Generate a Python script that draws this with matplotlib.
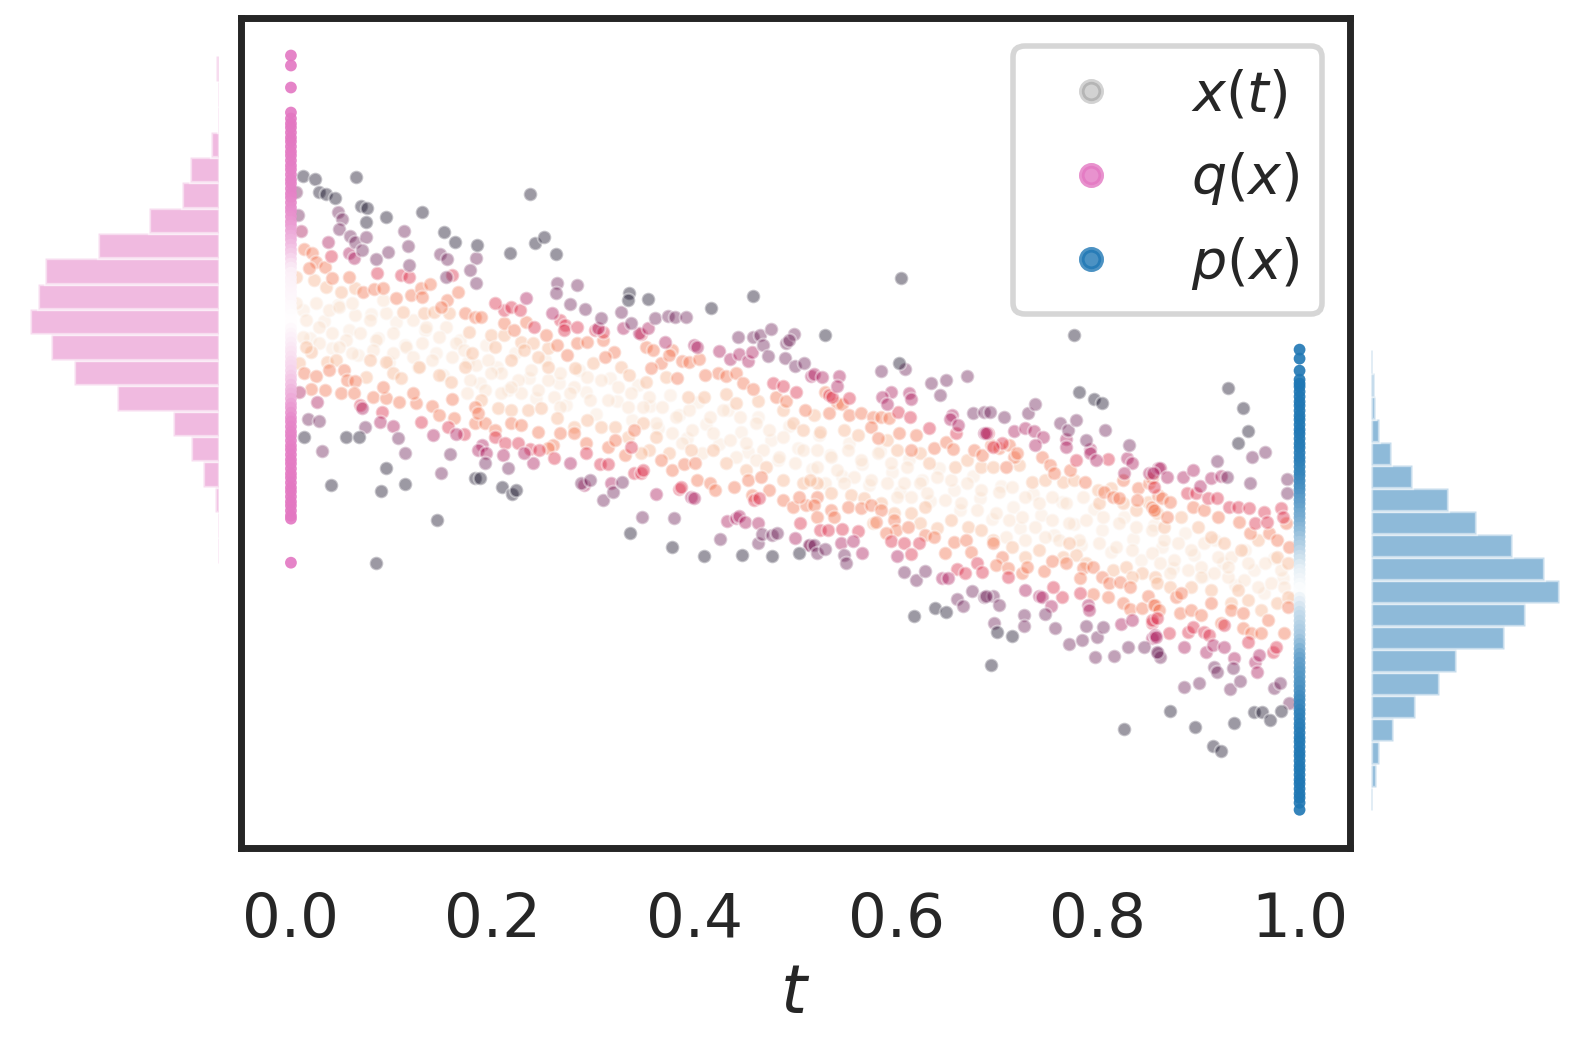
import numpy as np
import matplotlib
matplotlib.use("Agg")
import matplotlib.pyplot as plt
import seaborn as sns
from matplotlib.colors import LinearSegmentedColormap, PowerNorm
from matplotlib.lines import Line2D

sns.set_theme(style="white", context="poster")

# ---- data -----------------------------------------------------------------
# samples at the two ends (t=0: q(x), t=1: p(x))
q_strip = [4.44, 4.34, 4.12, 3.87,
           3.81, 3.76, 3.72, 3.67, 3.62, 3.58, 3.53, 3.48, 3.44, 3.39, 3.34, 3.30,
           3.25, 3.20, 3.16, 3.11, 3.06, 3.02, 2.97, 2.92, 2.88, 2.83, 2.78, 2.74,
           2.69, 2.64, 2.60, 2.55, 2.50, 2.46, 2.41, 2.36, 2.32, 2.27, 2.22, 2.18,
           2.13, 2.08, 2.04, 1.99, 1.94, 1.90, 1.85, 1.80, 1.76, 1.71, 1.66, 1.62,
           1.57, 1.52, 1.48, 1.43, 1.38, 1.34, 1.29, 1.24, 1.20, 1.15, 1.10, 1.06,
           1.01, 0.96, 0.92, 0.87, 0.82, 0.78, 0.73, 0.68, 0.64, 0.59, 0.54, 0.50,
           0.45, 0.40, 0.36, 0.31, 0.26, 0.22, 0.17, 0.12, 0.08, 0.03, -0.02, -0.06,
           -0.11, -0.16, -0.19, -0.63]
p_strip = [1.50, 1.41, 1.29, 1.20, 1.16, 1.13,
           1.08, 1.03, 0.98, 0.94, 0.89, 0.84, 0.80, 0.75, 0.70, 0.66, 0.61, 0.56,
           0.52, 0.47, 0.42, 0.38, 0.33, 0.28, 0.24, 0.19, 0.14, 0.10, 0.05, 0.00,
           -0.04, -0.09, -0.14, -0.18, -0.23, -0.28, -0.32, -0.37, -0.42, -0.46,
           -0.51, -0.56, -0.60, -0.65, -0.70, -0.74, -0.79, -0.84, -0.88, -0.93,
           -0.98, -1.02, -1.07, -1.12, -1.16, -1.21, -1.26, -1.30, -1.35, -1.40,
           -1.44, -1.49, -1.54, -1.58, -1.63, -1.68, -1.72, -1.77, -1.82, -1.86,
           -1.91, -1.96, -2.00, -2.05, -2.10, -2.14, -2.19, -2.24, -2.28, -2.33,
           -2.38, -2.42, -2.47, -2.52, -2.56, -2.61, -2.66, -2.70, -2.75, -2.80,
           -2.84, -2.89, -2.94, -2.98, -3.03, -3.10]

# histogram counts, 20 bins, from lowest x to highest x
q_counts = [1, 1, 3, 12, 21, 35, 77, 110, 127, 143, 137, 132, 92, 53, 28, 22, 6, 1, 1, 2]
p_counts = [1, 4, 6, 17, 34, 53, 66, 104, 120, 147, 135, 110, 82, 60, 32, 16, 6, 3, 2, 1]

# x(t) cloud, grouped by how dark the point is (density level)
pale = [(.025,1.97),(.038,1.90),(.048,1.93),(.064,1.85),(.078,1.80),(.094,1.87),(.121,1.80),(.134,1.73),
        (.154,1.73),(.015,1.80),(.028,1.73),(.041,1.67),(.055,1.60),(.068,1.67),(.084,1.60),(.101,1.67),
        (.114,1.53),(.130,1.57),(.147,1.63),(.164,1.57),(.012,1.63),(.028,1.57),(.048,1.53),(.061,1.47),
        (.081,1.50),(.101,1.47),(.121,1.43),(.140,1.40),(.160,1.43),(.005,1.97),(.091,2.00),(.061,1.97),
        (.172,1.50),(.183,1.35),(.195,1.40),(.208,1.27),(.225,1.20),(.238,1.30),(.255,1.20),(.267,1.27),
        (.281,1.13),(.294,1.23),(.307,1.20),(.324,1.13),(.337,1.07),(.178,1.20),(.192,1.10),(.208,1.07),
        (.228,1.07),(.245,1.10),(.261,1.03),(.277,1.07),(.297,1.00),(.314,1.00),(.334,0.93),(.198,1.27),
        (.218,1.13),(.267,0.93),(.175,1.07),
        (.355,1.03),(.368,0.93),(.382,0.83),(.395,0.90),(.415,0.83),(.428,0.90),(.445,0.83),(.461,0.77),
        (.474,0.70),(.488,0.63),(.508,0.50),(.349,0.93),(.362,0.77),(.378,0.67),(.398,0.70),(.418,0.67),
        (.435,0.60),(.451,0.57),(.468,0.50),(.484,0.43),(.500,0.37),(.388,0.57),(.408,0.47),(.441,0.43),
        (.461,0.40),
        (.522,0.50),(.535,0.43),(.552,0.50),(.565,0.40),(.582,0.47),(.595,0.37),(.611,0.33),(.522,0.33),
        (.541,0.30),(.558,0.23),(.575,0.20),(.591,0.17),(.608,0.17),(.624,0.17),(.641,0.23),(.654,0.20),
        (.670,0.17),(.684,0.10),(.615,0.03),(.631,0.07),(.648,0.00),(.664,-0.03),(.680,-0.10),(.548,0.17),
        (.529,0.17),(.601,0.03),
        (.702,0.08),(.715,0.13),(.728,0.03),(.742,-0.03),(.755,0.03),(.768,-0.03),(.785,0.03),(.699,-0.13),
        (.712,-0.20),(.725,-0.17),(.738,-0.27),(.755,-0.20),(.771,-0.23),(.788,-0.20),(.805,-0.17),(.821,-0.23),
        (.838,-0.27),(.854,-0.30),(.709,-0.37),(.728,-0.40),(.748,-0.37),(.781,-0.40),(.801,-0.43),(.818,-0.47),
        (.834,-0.50),(.854,-0.53),(.761,-0.40),
        (.866,-0.40),(.879,-0.43),(.892,-0.50),(.905,-0.43),(.919,-0.57),(.932,-0.57),(.949,-0.63),(.966,-0.63),
        (.982,-0.70),(.862,-0.63),(.876,-0.60),(.889,-0.70),(.902,-0.67),(.915,-0.73),(.929,-0.77),(.945,-0.80),
        (.959,-0.87),(.972,-0.83),(.985,-0.87),(.872,-0.73),(.902,-0.77),(.929,-0.67)]

# more of the faint points that fill the middle of the band
pale_fill = [(.012,1.90),(.019,1.62),(.033,1.79),(.041,1.52),(.047,1.95),(.058,1.70),(.066,1.45),(.079,1.86),
             (.086,1.62),(.097,1.38),(.104,1.78),(.113,1.55),(.126,1.33),(.133,1.70),(.144,1.47),(.151,1.25),
             (.168,1.60),(.176,1.38),(.187,1.17),(.193,1.55),(.204,1.33),(.215,1.10),(.222,1.47),(.236,1.22),
             (.243,1.02),(.252,1.40),(.266,1.17),(.273,0.95),(.286,1.30),(.293,1.08),(.302,0.86),(.316,1.22),
             (.323,0.99),(.338,0.80),(.344,1.15),(.356,0.94),(.364,0.72),(.376,1.05),(.385,0.85),(.393,0.62),
             (.404,0.98),(.412,0.76),(.424,0.56),(.433,0.90),(.446,0.68),(.453,0.48),(.463,0.83),(.476,0.60),
             (.483,0.40),(.494,0.74),(.503,0.52),(.517,0.31),(.524,0.65),(.534,0.45),(.546,0.24),(.553,0.57),
             (.566,0.36),(.573,0.15),(.584,0.49),(.596,0.28),(.604,0.08),(.613,0.41),(.626,0.20),(.634,-0.01),
             (.643,0.32),(.657,0.10),(.663,-0.10),(.676,0.24),(.683,0.02),(.695,-0.19),(.704,0.14),(.716,-0.07),
             (.723,-0.28),(.736,0.06),(.744,-0.15),(.757,-0.35),(.764,-0.02),(.776,-0.24),(.783,-0.45),(.796,-0.09),
             (.804,-0.30),(.813,-0.52),(.826,-0.17),(.835,-0.39),(.843,-0.60),(.856,-0.25),(.864,-0.47),(.875,-0.68),
             (.886,-0.33),(.895,-0.55),(.904,-0.76),(.916,-0.40),(.924,-0.63),(.936,-0.85),(.946,-0.50),(.955,-0.70),
             (.965,-0.93),(.975,-0.58),(.984,-0.78),(.993,-0.98)]

peach = [(.005,2.23),(.023,2.20),(.035,2.13),(.050,2.08),(.064,2.12),(.111,1.88),(.132,1.87),(.142,1.88),
         (.157,1.87),(.008,1.37),(.020,1.48),(.036,1.38),(.045,1.40),(.078,1.40),(.094,1.38),(.101,1.27),
         (.109,1.22),(.127,1.33),(.147,1.25),(.159,1.18),(.074,1.23),(.015,1.53),
         (.177,1.68),(.198,1.65),(.211,1.65),(.228,1.58),(.240,1.57),(.255,1.52),(.245,1.43),(.231,1.50),
         (.218,1.40),(.202,1.53),(.255,1.33),(.282,1.32),(.299,1.37),(.327,1.33),(.335,1.25),(.180,1.47),
         (.173,1.33),(.188,1.00),(.205,0.92),(.218,0.90),(.235,0.90),(.248,0.92),(.264,0.82),(.281,0.73),
         (.294,0.80),(.307,0.73),(.321,0.73),(.334,0.63),
         (.352,1.18),(.372,1.23),(.394,1.03),(.410,1.03),(.431,1.06),(.441,0.97),(.463,0.99),(.488,0.90),
         (.498,0.77),(.508,0.70),(.355,0.50),(.347,0.47),(.375,0.47),(.418,0.50),(.431,0.37),(.451,0.30),
         (.471,0.33),(.488,0.20),(.508,0.17),(.362,0.63),(.349,0.77),(.397,0.50),
         (.519,0.85),(.525,0.68),(.548,0.70),(.562,0.65),(.591,0.60),(.601,0.50),(.624,0.47),(.633,0.37),
         (.658,0.33),(.670,0.40),(.684,0.33),(.522,0.17),(.535,0.07),(.555,0.05),(.568,0.02),(.585,-0.03),
         (.598,-0.13),(.615,-0.13),(.629,-0.07),(.624,-0.23),(.641,-0.28),(.654,-0.20),(.671,-0.27),(.684,-0.30),
         (.577,-0.23),(.515,0.20),
         (.696,0.33),(.722,0.35),(.735,0.18),(.748,0.20),(.765,0.18),(.776,0.20),(.800,0.10),(.813,0.12),
         (.825,-0.03),(.838,-0.10),(.850,-0.02),(.857,-0.10),(.801,-0.03),(.696,-0.40),(.715,-0.47),(.728,-0.57),
         (.742,-0.50),(.765,-0.57),(.778,-0.55),(.788,-0.63),(.771,-0.43),(.815,-0.70),(.828,-0.67),(.844,-0.73),
         (.857,-0.77),(.834,-0.77),
         (.859,-0.13),(.866,-0.27),(.882,-0.17),(.899,-0.27),(.912,-0.37),(.925,-0.43),(.942,-0.50),(.959,-0.40),
         (.978,-0.57),(.989,-0.63),(.859,-0.83),(.872,-0.87),(.892,-0.87),(.912,-0.90),(.932,-1.03),(.949,-1.00),
         (.962,-1.10),(.978,-1.03),(.989,-0.97),(.939,-0.90)]

orange = [(.013,2.51),(.021,2.47),(.025,2.38),(.018,2.32),(.034,2.33),(.041,2.22),(.058,2.23),(.071,2.08),
          (.082,2.11),(.091,2.12),(.119,2.05),(.129,2.12),(.130,2.03),(.138,2.16),(.155,2.00),(.166,2.08),
          (.149,1.93),(.104,2.02),(.013,1.27),(.025,1.24),(.038,1.30),(.053,1.30),(.056,1.20),(.064,1.19),
          (.081,1.03),(.094,1.02),(.107,0.98),(.124,0.97),(.140,0.94),(.147,0.85),(.160,1.01),(.162,0.82),
          (.034,1.10),(.020,1.11),(.050,1.07),(.063,1.07),(.091,1.13),(.121,1.07),
          (.173,1.87),(.182,1.83),(.188,1.83),(.211,1.77),(.221,1.70),(.233,1.78),(.253,1.65),(.264,1.55),
          (.284,1.57),(.294,1.58),(.309,1.60),(.320,1.48),(.311,1.43),(.274,1.45),(.182,0.93),(.182,0.77),
          (.192,0.77),(.202,0.70),(.218,0.77),(.228,0.75),(.245,0.68),(.260,0.55),(.267,0.67),(.281,0.67),
          (.293,0.57),(.314,0.53),(.331,0.45),(.321,0.60),(.255,0.52),(.340,0.70),(.185,0.87),
          (.352,1.53),(.359,1.50),(.367,1.37),(.378,1.50),(.375,1.45),(.388,1.39),(.395,1.38),(.405,1.41),
          (.423,1.27),(.431,1.24),(.441,1.27),(.448,1.17),(.458,1.11),(.481,1.03),(.491,0.99),(.510,0.90),
          (.411,1.25),(.383,1.22),(.357,1.32),(.367,0.40),(.378,0.30),(.390,0.36),(.401,0.37),(.403,0.20),
          (.415,0.17),(.420,0.10),(.439,0.13),(.453,0.20),(.466,0.23),(.474,0.10),(.488,0.00),(.498,-0.07),
          (.511,-0.05),(.504,0.03),(.457,0.05),
          (.529,1.08),(.541,0.97),(.546,0.96),(.533,0.87),(.553,0.85),(.565,0.87),(.577,0.83),(.585,0.83),
          (.593,0.82),(.575,0.73),(.582,0.62),(.603,0.67),(.620,0.65),(.638,0.52),(.649,0.58),(.656,0.51),
          (.677,0.50),(.685,0.45),(.615,0.50),(.522,0.03),(.519,-0.05),(.535,-0.10),(.538,-0.17),(.522,-0.17),
          (.552,-0.07),(.565,-0.08),(.575,-0.05),(.585,-0.10),(.598,-0.20),(.600,-0.30),(.612,-0.27),(.629,-0.35),
          (.638,-0.37),(.657,-0.42),(.669,-0.40),(.674,-0.52),(.648,-0.53),(.590,-0.33),(.580,-0.22),
          (.694,0.55),(.702,0.52),(.712,0.55),(.717,0.43),(.720,0.47),(.709,0.33),(.745,0.43),(.753,0.35),
          (.757,0.27),(.772,0.30),(.787,0.18),(.806,0.08),(.815,0.03),(.821,0.02),(.825,0.20),(.840,0.12),
          (.851,0.17),(.839,0.00),(.854,-0.07),(.860,0.05),(.696,-0.43),(.705,-0.57),(.699,-0.65),(.711,-0.68),
          (.725,-0.73),(.730,-0.67),(.747,-0.71),(.755,-0.61),(.768,-0.63),(.785,-0.68),(.795,-0.67),(.804,-0.77),
          (.811,-0.83),(.822,-0.82),(.832,-0.87),(.795,-0.94),(.810,-0.97),(.825,-1.03),(.832,-1.09),(.844,-1.08),
          (.850,-0.96),(.857,-1.05),(.782,-0.78),
          (.854,0.22),(.864,0.02),(.872,-0.02),(.856,-0.10),(.869,-0.17),(.894,-0.07),(.905,-0.10),(.919,-0.17),
          (.940,-0.22),(.951,-0.33),(.970,-0.33),(.978,-0.40),(.987,-0.23),(.990,-0.47),(.877,-0.97),(.882,-0.93),
          (.856,-1.05),(.861,-1.10),(.881,-1.13),(.892,-1.10),(.902,-1.15),(.912,-1.03),(.922,-1.23),(.932,-1.10),
          (.944,-1.13),(.969,-1.20),(.985,-1.33),(.989,-1.07),(.944,-1.28),(.952,-1.33),(.962,-1.33)]

red = [(.040,2.44),(.109,2.25),(.117,2.23),(.085,2.27),(.090,0.88),(.068,0.95),(.156,0.73),(.129,0.78),
       (.160,2.25),
       (.211,1.90),(.218,1.93),(.227,1.90),(.202,1.97),(.267,1.80),(.272,1.75),(.271,1.70),(.241,1.73),
       (.284,1.73),(.301,1.70),(.309,1.68),(.237,0.51),(.246,0.50),(.261,0.42),(.306,0.36),(.314,0.36),
       (.293,0.47),(.172,0.66),(.202,0.63),(.212,0.57),(.225,0.57),(.340,0.27),(.337,0.53),
       (.347,1.66),(.347,0.27),(.385,0.11),(.387,0.13),(.478,1.17),(.488,1.14),(.501,1.08),(.459,0.00),
       (.464,0.02),(.505,-0.23),(.349,0.30),
       (.533,1.05),(.536,1.03),(.553,1.02),(.602,0.88),(.614,0.83),(.633,0.72),(.659,0.67),(.525,-0.30),
       (.532,-0.30),(.546,-0.29),(.562,-0.31),(.595,-0.41),(.608,-0.43),(.623,-0.43),(.615,-0.54),(.660,-0.69),
       (.668,-0.73),(.680,-0.63),(.685,-0.72),
       (.691,0.67),(.705,0.57),(.778,0.40),(.810,0.41),(.764,-0.97),(.711,-0.77),(.756,-0.87),(.782,-0.93),
       (.854,-1.23),(.696,0.53),
       (.856,0.13),(.888,0.07),(.897,0.07),(.909,0.02),(.918,0.02),(.930,-0.07),(.939,-0.07),(.950,-0.08),
       (.965,-0.12),(.982,-0.08),(.984,-0.17),(.854,-1.20),(.859,-1.18),(.871,-1.33),(.889,-1.32),(.894,-1.27),
       (.905,-1.32),(.910,-1.35),(.925,-1.25),(.949,-1.42),(.974,-1.52),(.977,-1.47),(.956,-0.23),(.968,-0.22)]

crimson = [(.010,2.69),(.037,2.58),(.058,2.47),(.063,2.42),(.088,0.78),(.101,0.74),(.070,0.92),(.141,0.65),
           (.026,0.98),(.008,1.08),(.164,0.66),
           (.189,0.55),(.185,0.50),(.210,0.45),(.240,0.37),(.231,0.47),(.277,0.37),(.329,1.72),(.304,1.72),
           (.233,2.02),(.259,1.87),(.291,0.15),(.317,0.17),(.193,0.47),
           (.345,1.67),(.354,1.72),(.371,1.58),(.400,1.55),(.403,1.53),(.424,1.49),(.435,1.41),(.444,1.46),
           (.453,1.39),(.457,1.48),(.362,0.06),(.397,0.03),(.400,0.02),(.432,-0.21),(.441,-0.18),(.444,-0.16),
           (.450,-0.22),(.463,-0.23),(.500,-0.38),(.516,1.24),
           (.519,1.26),(.527,1.23),(.543,1.24),(.541,1.14),(.595,1.08),(.586,1.03),(.591,0.96),(.613,1.07),
           (.615,1.01),(.655,0.85),(.653,0.81),(.661,0.75),(.687,0.67),(.545,-0.43),(.557,-0.41),(.566,-0.53),
           (.601,-0.56),(.645,-0.78),(.651,-0.78),(.515,-0.45),
           (.717,0.69),(.728,0.72),(.737,0.69),(.746,0.63),(.738,0.55),(.768,0.61),(.768,0.53),(.792,0.51),
           (.792,0.47),(.798,0.40),(.829,0.42),(.834,0.37),(.826,0.27),(.851,0.27),(.860,0.32),(.742,-0.96),
           (.745,-0.97),(.728,-0.90),(.754,-1.06),(.790,-1.05),(.791,-1.10),(.823,-1.24),(.834,-1.20),(.854,-1.38),
           (.857,-1.35),(.689,0.67),
           (.862,0.32),(.855,0.27),(.869,0.23),(.884,0.23),(.894,0.30),(.901,0.14),(.912,0.22),(.922,0.24),
           (.858,-1.37),(.885,-1.47),(.907,-1.52),(.914,-1.45),(.925,-1.47),(.935,-1.58),(.956,-1.62),(.958,-1.72),
           (.960,-1.55)]

purple = [(.047,2.88),(.051,2.81),(.048,2.71),(.059,2.64),(.064,2.58),(.074,2.63),(.112,2.69),(.116,2.54),
          (.148,2.46),(.155,2.41),(.070,2.50),(.096,2.48),(.084,2.41),(.117,2.35),(.154,2.23),(.031,0.49),
          (.017,0.81),(.028,0.79),(.073,0.73),(.113,0.47),(.158,0.46),(.106,0.62),(.149,0.27),(.005,3.08),
          (.007,2.85),
          (.183,2.42),(.178,2.30),(.264,2.17),(.263,2.07),(.284,2.15),(.277,1.96),(.292,1.91),(.327,1.88),
          (.307,1.82),(.337,1.77),(.192,0.37),(.215,0.32),(.288,0.17),(.297,0.20),(.309,0.00),(.319,0.08),
          (.328,0.18),(.183,2.17),
          (.361,1.82),(.374,1.84),(.381,1.83),(.392,1.83),(.443,1.63),(.458,1.63),(.465,1.65),(.468,1.55),
          (.476,1.71),(.491,1.57),(.499,1.66),(.494,1.60),(.473,1.44),(.490,1.42),(.500,1.34),(.509,1.37),
          (.348,-0.17),(.380,-0.18),(.425,-0.39),(.463,-0.43),(.467,-0.34),(.477,-0.35),(.482,-0.33),(.514,-0.45),
          (.609,1.31),(.585,1.29),(.635,1.17),(.649,1.20),(.670,1.24),(.644,1.05),(.519,-0.45),(.522,-0.53),
          (.529,-0.49),(.548,-0.55),(.550,-0.63),(.660,-0.99),(.666,-1.06),(.675,-0.91),(.687,-0.97),(.620,-0.80),
          (.629,-0.71),(.676,0.87),(.687,0.88),(.608,-0.72),
          (.693,0.88),(.707,0.83),(.731,0.87),(.738,0.96),(.762,0.77),(.770,0.70),(.778,0.80),(.807,0.70),
          (.831,0.55),(.788,0.60),(.696,-0.96),(.702,-1.05),(.697,-1.23),(.727,-1.15),(.727,-1.26),(.758,-1.28),
          (.771,-1.44),(.784,-1.40),(.788,-1.26),(.799,-1.37),(.805,-1.27),(.797,-1.57),(.816,-1.56),(.830,-1.47),
          (.846,-1.47),(.860,-1.53),(.748,-1.14),(.689,-0.96),
          (.953,0.43),(.966,0.48),(.918,0.39),(.928,0.23),(.951,0.17),(.988,0.21),(.988,0.07),(.885,-1.87),
          (.900,-1.83),(.931,-1.89),(.941,-1.81),(.915,-1.67),(.918,-1.72),(.975,-1.88),(.981,-1.83),(.990,-2.03),
          (.862,-1.57),(.859,-1.52),(.934,-1.68)]

dark = [(.012,3.24),(.024,3.21),(.065,3.23),(.028,3.08),(.035,3.06),(.044,3.02),(.069,2.94),(.075,2.92),
        (.130,2.88),(.094,2.83),(.074,2.78),(.152,2.68),(.163,2.58),(.013,0.63),(.055,0.63),(.067,0.63),
        (.040,0.15),(.089,0.09),(.094,0.32),(.113,0.16),(.145,-0.20),(.084,-0.63),
        (.237,3.06),(.242,2.57),(.251,2.63),(.263,2.46),(.217,2.47),(.184,2.55),(.182,0.22),(.187,0.22),
        (.209,0.13),(.219,0.06),(.223,0.10),(.336,-0.33),(.335,2.07),(.334,2.00),
        (.354,2.01),(.458,2.04),(.416,1.92),(.378,-0.47),(.410,-0.56),(.447,-0.55),(.477,-0.56),(.504,-0.53),
        (.605,2.22),(.529,1.65),(.618,-1.16),(.639,-1.08),(.649,-1.12),(.603,1.37),
        (.776,1.65),(.781,1.08),(.796,1.01),(.804,0.97),(.694,-1.65),(.826,-2.29),(.715,-1.36),(.700,-1.32),
        (.929,1.12),(.944,0.92),(.949,0.69),(.939,0.57),(.872,-2.11),(.896,-2.27),(.914,-2.46),(.922,-2.51),
        (.935,-2.23),(.955,-2.12),(.963,-2.12),(.971,-2.20),(.982,-2.11)]

# colour level of each group on the rocket_r scale
groups = [(pale_fill, 0.02), (pale, 0.04), (peach, 0.15), (orange, 0.30), (red, 0.45),
          (crimson, 0.58), (purple, 0.72), (dark, 0.95)]

pink = "#e377c2"
blue = "#1f77b4"

# ---- figure ---------------------------------------------------------------
W, H = 1589, 1049
fig = plt.figure(figsize=(W / 200, H / 200), dpi=200)

ax = fig.add_axes([240.5 / W, 1 - 847.5 / H, 1109.5 / W, 829.2 / H])
ax_q = fig.add_axes([20 / W, 1 - 847.5 / H, 199 / W, 829.2 / H], sharey=ax)
ax_p = fig.add_axes([1371 / W, 1 - 847.5 / H, 209 / W, 829.2 / H], sharey=ax)

rocket = sns.color_palette("rocket_r", as_cmap=True)
for pts, level in groups:
    pts = np.array(pts)
    ax.scatter(pts[:, 0], pts[:, 1], s=24, color=rocket(level), alpha=0.42,
               edgecolors="white", linewidths=0.8, zorder=2)

# end-point samples, coloured by density (white where dense)
def strip(vals, counts, color, t0):
    vals = np.array(vals)
    edges = np.linspace(vals.min(), vals.max(), len(counts) + 1)
    centers = 0.5 * (edges[1:] + edges[:-1])
    dens = np.interp(vals, centers, counts) / max(counts)
    cmap = LinearSegmentedColormap.from_list("s", [color, "white"])
    ax.scatter(np.full(len(vals), t0), vals, s=18, c=dens, cmap=cmap,
               norm=PowerNorm(1.5, 0, 1), alpha=0.9, linewidths=0, zorder=3)
    return edges, centers

q_edges, q_centers = strip(q_strip, q_counts, pink, 0.0)
p_edges, p_centers = strip(p_strip, p_counts, blue, 1.0)

ax_q.hist(q_centers, bins=q_edges, weights=q_counts, orientation="horizontal",
          color=pink, alpha=0.5, edgecolor="white", linewidth=1.2)
ax_p.hist(p_centers, bins=p_edges, weights=p_counts, orientation="horizontal",
          color=blue, alpha=0.5, edgecolor="white", linewidth=1.2)
ax_q.set_xlim(150.8, 0)
ax_p.set_xlim(0, 163.2)
for a in (ax_q, ax_p):
    a.axis("off")

ax.set_xlim(-0.05, 1.05)
ax.set_ylim(-3.477, 4.812)
ax.set_xticks([0.0, 0.2, 0.4, 0.6, 0.8, 1.0])
ax.set_yticks([])
ax.set_xlabel("$t$")

handles = [
    Line2D([], [], ls="", marker="o", color="grey", alpha=0.35, markersize=7,
           markeredgewidth=2, label="$x(t)$"),
    Line2D([], [], ls="", marker="o", color=pink, alpha=0.8, markersize=7,
           markeredgewidth=2, label="$q(x)$"),
    Line2D([], [], ls="", marker="o", color=blue, alpha=0.8, markersize=7,
           markeredgewidth=2, label="$p(x)$"),
]
ax.legend(handles=handles, loc="upper right", fontsize=20)

fig.savefig("out.png", dpi=200)
